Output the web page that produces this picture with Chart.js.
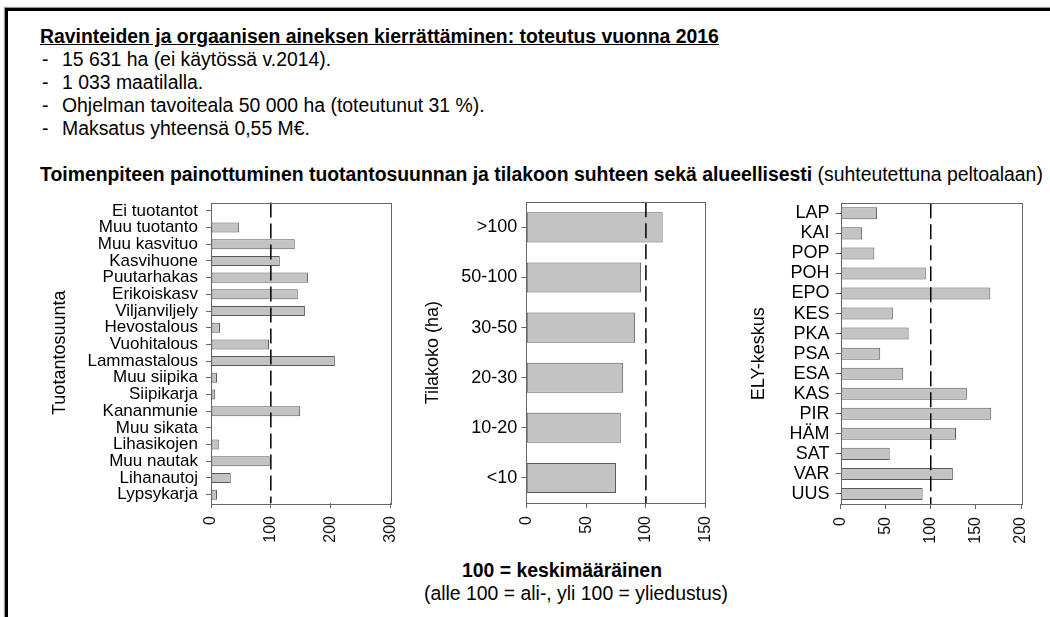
<!DOCTYPE html>
<html>
<head>
<meta charset="utf-8">
<script src="https://cdn.jsdelivr.net/npm/chart.js"></script>
<style>
body { margin: 0; background: #fff; }
#page { position: relative; width: 1050px; height: 617px; overflow: hidden; font-family: 'Liberation Sans', Arial, sans-serif; color: #000; }
.frame { position: absolute; left: 5px; top: 8px; width: 1060px; height: 620px; border-top: 3px solid #000; border-left: 3px solid #000; box-shadow: -1px -1px 1px #999; }
.txt { position: absolute; font-size: 19.4px; line-height: 23px; white-space: nowrap; }
canvas { position: absolute; }
</style>
</head>
<body>
<div id="page">
  <div class="frame"></div>
  <div class="txt" style="left:40px;top:25px;font-weight:bold;text-decoration:underline;">Ravinteiden ja orgaanisen aineksen kierrättäminen: toteutus vuonna 2016</div>
  <div class="txt" style="left:42px;top:48px;">-</div>
  <div class="txt" style="left:62px;top:48px;">15 631 ha (ei käytössä v.2014).</div>
  <div class="txt" style="left:42px;top:71px;">-</div>
  <div class="txt" style="left:62px;top:71px;">1 033 maatilalla.</div>
  <div class="txt" style="left:42px;top:94px;">-</div>
  <div class="txt" style="left:62px;top:94px;">Ohjelman tavoiteala 50 000 ha (toteutunut 31 %).</div>
  <div class="txt" style="left:42px;top:117px;">-</div>
  <div class="txt" style="left:62px;top:117px;">Maksatus yhteensä 0,55 M€.</div>
  <div class="txt" style="left:40px;top:163px;"><b>Toimenpiteen painottuminen tuotantosuunnan ja tilakoon suhteen sekä alueellisesti</b> (suhteutettuna peltoalaan)</div>

  <canvas id="prodChart" width="370" height="360" style="left:40px;top:195px;"></canvas>
  <canvas id="sizeChart" width="310" height="360" style="left:420px;top:195px;"></canvas>
  <canvas id="elyChart" width="310" height="360" style="left:740px;top:195px;"></canvas>

  <div class="txt" style="left:462px;top:559px;font-weight:bold;">100 = keskimääräinen</div>
  <div class="txt" style="left:424px;top:582px;">(alle 100 = ali-, yli 100 = yliedustus)</div>
</div>

<script>
// index values, 100 = average (top to bottom as in the picture)
var prodLabels = ['Ei tuotantot', 'Muu tuotanto', 'Muu kasvituo', 'Kasvihuone', 'Puutarhakas', 'Erikoiskasv',
    'Viljanviljely', 'Hevostalous', 'Vuohitalous', 'Lammastalous', 'Muu siipika', 'Siipikarja',
    'Kananmunie', 'Muu sikata', 'Lihasikojen', 'Muu nautak', 'Lihanautoj', 'Lypsykarja'];
var prodValues = [0, 47, 140, 115, 162, 145, 157, 15, 97, 207, 10, 7, 149, 0, 13, 98, 33, 10];

var sizeLabels = ['>100', '50-100', '30-50', '20-30', '10-20', '<10'];
var sizeValues = [114, 96, 91, 81, 79, 75];

var elyLabels = ['LAP', 'KAI', 'POP', 'POH', 'EPO', 'KES', 'PKA', 'PSA', 'ESA', 'KAS', 'PIR', 'HÄM', 'SAT', 'VAR', 'UUS'];
var elyValues = [40.5, 24, 37.5, 94.5, 166, 58, 75.5, 44, 69.5, 140, 167, 128, 54.5, 124.5, 91];

var averageLevel = 100;
var fontFamily = "'Liberation Sans', Arial, sans-serif";

// box around plot + dashed line at the average
var boxAndAverage = {
    id: 'boxAndAverage',
    afterDatasetsDraw: function (chart) {
        var a = chart.chartArea;
        var ctx = chart.ctx;
        var x = chart.scales.x.getPixelForValue(averageLevel);
        ctx.save();
        ctx.strokeStyle = '#000';
        ctx.lineWidth = 1.5;
        ctx.setLineDash([15, 6]);
        ctx.beginPath();
        ctx.moveTo(x, a.top);
        ctx.lineTo(x, a.bottom);
        ctx.stroke();
        ctx.setLineDash([]);
        ctx.strokeStyle = '#666';
        ctx.lineWidth = 1;
        ctx.strokeRect(Math.round(a.left) + 0.5, Math.round(a.top) + 0.5,
            Math.round(a.right - a.left), Math.round(a.bottom - a.top));
        ctx.restore();
    }
};

function makeChart(id, labels, values, o) {
    new Chart(document.getElementById(id).getContext('2d'), {
        type: 'bar',
        data: {
            labels: labels,
            datasets: [{
                data: values,
                backgroundColor: '#c3c3c3',
                borderColor: '#5a5a5a',
                borderWidth: 1,
                borderSkipped: false,
                categoryPercentage: 0.6,
                barPercentage: 1
            }]
        },
        options: {
            indexAxis: 'y',
            responsive: false,
            animation: false,
            layout: { padding: { top: o.padTop, right: o.padRight, left: 0, bottom: 0 } },
            plugins: { legend: { display: false }, tooltip: { enabled: false } },
            scales: {
                x: {
                    min: 0,
                    max: o.max,
                    border: { display: false },
                    grid: { drawOnChartArea: false, tickLength: 5, color: '#666' },
                    ticks: {
                        stepSize: o.step,
                        minRotation: 90,
                        maxRotation: 90,
                        padding: 8,
                        color: '#111',
                        font: { family: fontFamily, size: 16 }
                    },
                    afterFit: function (s) {
                        s.height = o.xHeight;
                        s.paddingLeft = 0;
                        s.paddingRight = 0;
                    }
                },
                y: {
                    border: { display: false },
                    grid: { drawOnChartArea: false, offset: false, tickLength: 5, color: '#666' },
                    ticks: {
                        autoSkip: false,
                        padding: o.labelPad,
                        color: '#000',
                        font: { family: fontFamily, size: o.labelSize }
                    },
                    title: {
                        display: true,
                        text: o.title,
                        color: '#000',
                        padding: { top: o.titlePad, bottom: 0 },
                        font: { family: fontFamily, size: 18 }
                    },
                    afterFit: function (s) {
                        s.width = o.yWidth;
                        s.paddingTop = 0;
                        s.paddingBottom = 0;
                    }
                }
            }
        },
        plugins: [boxAndAverage]
    });
}

makeChart('prodChart', prodLabels, prodValues, {
    max: 300, step: 100, padTop: 7.5, padRight: 19.5, xHeight: 52, yWidth: 171,
    labelSize: 17, labelPad: 8, title: 'Tuotantosuunta', titlePad: 9
});
makeChart('sizeChart', sizeLabels, sizeValues, {
    max: 150, step: 50, padTop: 7.3, padRight: 24.3, xHeight: 52, yWidth: 106.3,
    labelSize: 18, labelPad: 4, title: 'Tilakoko (ha)', titlePad: 2.5
});
makeChart('elyChart', elyLabels, elyValues, {
    max: 200, step: 50, padTop: 8.3, padRight: 29, xHeight: 51, yWidth: 100.5,
    labelSize: 18, labelPad: 6, title: 'ELY-keskus', titlePad: 8
});
</script>
</body>
</html>
